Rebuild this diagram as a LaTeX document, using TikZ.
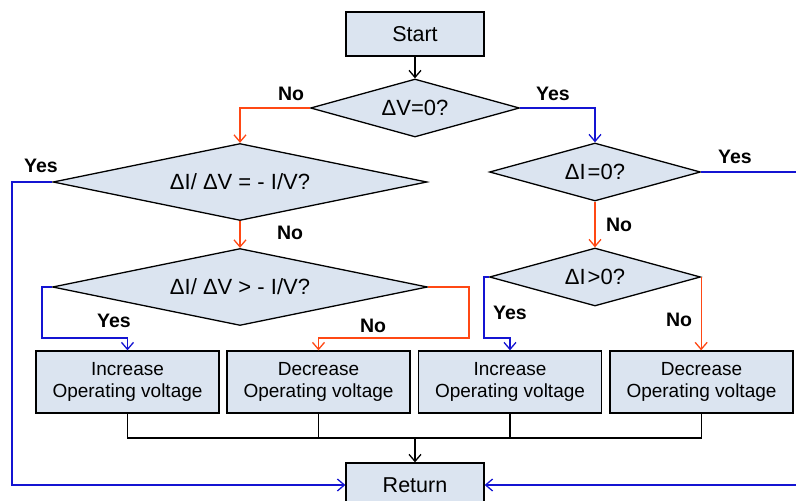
\documentclass[tikz,border=0pt]{standalone}
\usepackage{fontspec}
\setmainfont{Liberation Sans}
\usetikzlibrary{shapes.geometric,arrows.meta}
\definecolor{boxfill}{RGB}{219,228,240}
\definecolor{orline}{RGB}{255,72,20}
\definecolor{blline}{RGB}{20,20,210}
\tikzset{
  boxst/.style={draw=black,line width=1.3pt,fill=boxfill,inner sep=0pt,align=center},
  startst/.style={boxst,minimum width=138pt,minimum height=44pt,font=\fontsize{21.5}{24}\selectfont},
  actst/.style={boxst,minimum width=183pt,minimum height=62pt,font=\fontsize{19}{22}\selectfont},
  decst/.style={draw=black,line width=1.3pt,fill=boxfill,diamond,inner sep=0pt,font=\fontsize{22}{24}\selectfont},
  arr/.style={-{Straight Barb[length=7pt,width=12pt]}},
  conn/.style={line width=1.3pt},
  orc/.style={conn,draw=orline},
  blc/.style={conn,draw=blline},
  blk/.style={conn,draw=black},
  lab/.style={font=\fontsize{19.5}{22}\selectfont\bfseries,inner sep=0pt}
}
\begin{document}
\begin{tikzpicture}[x=1pt,y=-1pt]
\useasboundingbox (0,0) rectangle (796,501);
\begin{scope}
\clip (0,0) rectangle (796,501);
% nodes
\node[startst] (start) at (415,34) {Start};
\node[decst,shape aspect=3.6,minimum width=209pt,minimum height=58pt] (dv) at (415,108) {ΔV=0?};
\node[decst,shape aspect=4.86,minimum width=374pt,minimum height=77pt] (dslope) at (240,182) {ΔI/ ΔV = - I/V?};
\node[decst,shape aspect=4.86,minimum width=375pt,minimum height=77pt] (dgt) at (240,287) {ΔI/ ΔV > - I/V?};
\node[decst,shape aspect=3.64,minimum width=211pt,minimum height=58pt] (di0) at (595,172) {ΔI\hspace{2pt}=0?};
\node[decst,shape aspect=3.64,minimum width=211pt,minimum height=58pt] (dipos) at (595,277) {ΔI\hspace{2pt}>0?};
\node[actst] (b1) at (127.5,382) {Increase\\Operating voltage};
\node[actst] (b2) at (318.5,382) {Decrease\\Operating voltage};
\node[actst] (b3) at (510,382) {Increase\\Operating voltage};
\node[actst] (b4) at (701.5,382) {Decrease\\Operating voltage};
\node[startst] (ret) at (415,485) {Return};
\coordinate (merge) at (415,438);
% connectors
\draw[blk,arr] (start.south) -- (dv.north);
\draw[orc,arr] (dv.west) -| (dslope.north);
\draw[blc,arr] (dv.east) -| (di0.north);
\draw[orc,arr] (dslope.south) -- (dgt.north);
\draw[blc,arr] (dslope.west) -- (12,182) |- (ret.west);
\draw[blc,arr] (di0.east) -- (799,172) |- (ret.east);
\draw[orc,arr] (di0.south) -- (dipos.north);
\draw[blc,arr] (dgt.west) -- (42,287) |- (127.5,338) -- (b1.north);
\draw[orc,arr] (dgt.east) -- (469,287) |- (318.5,338) -- (b2.north);
\draw[blc,arr] (dipos.west) -- (484,277) |- (510,338) -- (b3.north);
\draw[orc,arr] (dipos.east) -- (dipos.east |- b4.north);
\draw[blk] (b1.south) |- (merge) -| (b4.south);
\draw[blk] (b2.south) -- (b2.south |- merge);
\draw[blk] (b3.south) -- (b3.south |- merge);
\draw[blk,arr] (merge) -- (ret.north);
% labels
\node[lab] (l1) at (291,94) {No};
\node[lab] (l2) at (553,94) {Yes};
\node[lab] (l3) at (41,166) {Yes};
\node[lab] (l4) at (290,233) {No};
\node[lab] (l5) at (735,157) {Yes};
\node[lab] (l6) at (619,225) {No};
\node[lab] (l7) at (114,321) {Yes};
\node[lab] (l8) at (373,326) {No};
\node[lab] (l9) at (510,313) {Yes};
\node[lab] (l10) at (679,320) {No};
\end{scope}
\end{tikzpicture}
\end{document}
